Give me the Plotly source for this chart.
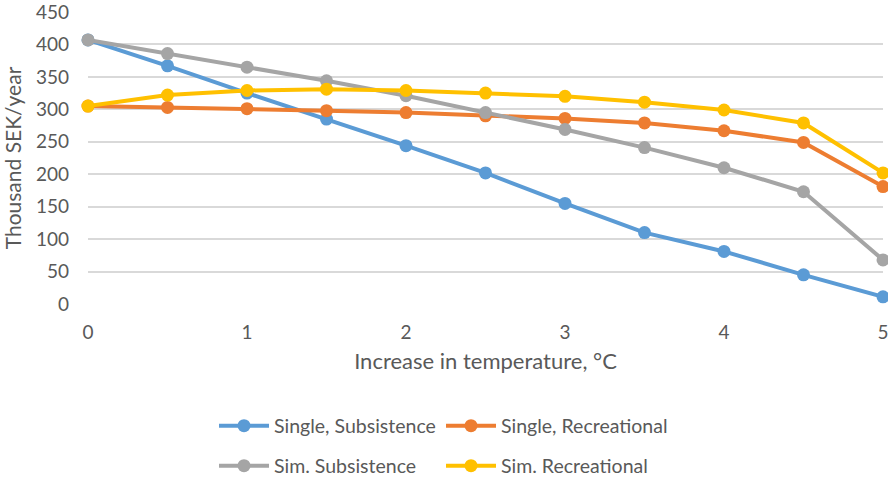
import plotly.graph_objects as go

x_vals = [0, 0.5, 1, 1.5, 2, 2.5, 3, 3.5, 4, 4.5, 5]
single_subsistence = [407, 367, 325, 285, 244, 202, 155, 110, 81, 45, 11]
single_recreational = [305, 303, 301, 298, 295, 290, 286, 279, 267, 249, 181]
sim_subsistence = [407, 386, 365, 344, 321, 295, 269, 241, 210, 173, 68]
sim_recreational = [305, 322, 329, 331, 329, 325, 320, 311, 299, 279, 202]

series_names = ["Single, Subsistence", "Single, Recreational", "Sim. Subsistence", "Sim. Recreational"]
series_colors = ["#5b9bd5", "#ed7d31", "#a5a5a5", "#ffc000"]
series_data = [single_subsistence, single_recreational, sim_subsistence, sim_recreational]
legend_ids = ["legend", "legend", "legend2", "legend2"]

FONT = "Lato"
fig = go.Figure()
for name, color, ys, lg in zip(series_names, series_colors, series_data, legend_ids):
    fig.add_trace(go.Scatter(
        x=x_vals, y=ys, name=name, mode="lines+markers",
        line=dict(color=color, width=4),
        marker=dict(color=color, size=13),
        cliponaxis=False, legend=lg,
    ))

leg_common = dict(orientation="h", xref="container", yref="container", xanchor="left",
                  yanchor="middle", entrywidth=162, itemwidth=50,
                  font=dict(size=19.5, color="#595959"), bgcolor="rgba(0,0,0,0)")

fig.update_layout(
    width=888, height=478,
    margin=dict(l=88, r=5, t=12, b=174, autoexpand=False),
    paper_bgcolor="white", plot_bgcolor="white",
    font=dict(family=FONT, color="#595959", size=19),
    xaxis=dict(range=[0, 5], tickvals=[0, 1, 2, 3, 4, 5], showgrid=False, zeroline=False,
               showline=False, ticks="", tickfont=dict(size=19), automargin=False,
               ticklabelstandoff=15, ticklabeloverflow="allow",
               title=dict(text="Increase in temperature, °C", font=dict(size=22), standoff=11)),
    yaxis=dict(range=[0, 450], tickvals=[0, 50, 100, 150, 200, 250, 300, 350, 400, 450],
               showgrid=True, gridcolor="#d9d9d9", gridwidth=1.5,
               zeroline=False, showline=False, ticks="", tickfont=dict(size=19), automargin=False,
               ticklabelstandoff=18, ticklabeloverflow="allow",
               title=dict(text="Thousand SEK/year", font=dict(size=21), standoff=11)),
    legend=dict(x=0.241, y=1 - 426 / 478, **leg_common),
    legend2=dict(x=0.241, y=1 - 466 / 478, **leg_common),
    showlegend=True,
)

fig.write_html("out.html", config={"displayModeBar": False},
               post_script="document.body.style.margin='0';")
